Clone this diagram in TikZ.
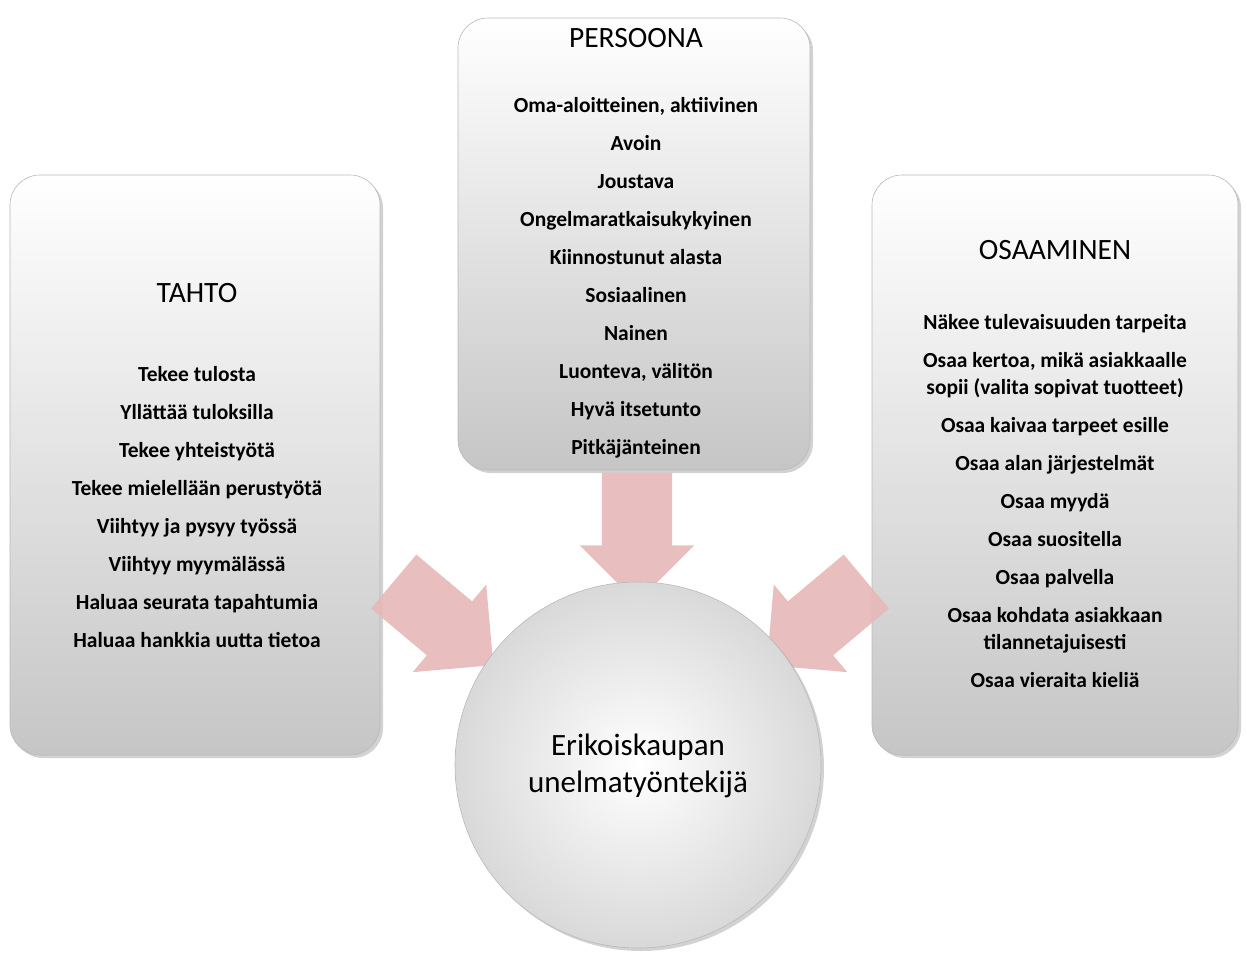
\documentclass[tikz,border=0pt]{standalone}
\usepackage{fontspec}
\setmainfont{Carlito}
\usetikzlibrary{shapes.arrows,shadows}
\begin{document}
\begin{tikzpicture}[x=1pt,y=-1pt,
  panel/.style={draw=gray!55,line width=0.6pt,rounded corners=30pt,top color=white,bottom color=gray!45,drop shadow={opacity=0.35,shadow xshift=3pt,shadow yshift=-3pt}},
  blockarrow/.style={single arrow,draw=none,fill=pinkarr,minimum height=130pt,inner sep=35pt,single arrow head extend=22pt,opacity=0.9},
  ttl/.style={font=\fontsize{29.5}{32}\selectfont,anchor=center},
  lst/.style={font=\fontsize{21.5}{27}\selectfont\bfseries,align=center,anchor=north}]
\definecolor{pinkarr}{HTML}{E6B9B8}
\useasboundingbox (0,0) rectangle (1247,956);
\fill[white] (0,0) rectangle (1247,956);
% panels
\path[panel] (10,175) rectangle (380,755);
\path[panel] (458,18) rectangle (810,470);
\path[panel] (872,175) rectangle (1238,755);
% arrows
\node[blockarrow,rotate=-40] (al) at (430,612) {};
\node[blockarrow,rotate=-90] (ac) at (637,520) {};
\node[blockarrow,rotate=-140] (ar) at (830,612) {};
% circle
\node[circle,minimum size=366pt,draw=gray!55,line width=0.6pt,inner color=white,outer color=gray!30,drop shadow={opacity=0.35,shadow xshift=3pt,shadow yshift=-3pt}] (c) at (638,765) {};
\node[font=\fontsize{31}{37}\selectfont,align=center] (ct) at (638,766) {Erikoiskaupan\\unelmatyöntekijä};
% texts
\node[ttl] (t1) at (197,293) {TAHTO};
\node[lst] (l1) at (197,363) {Tekee tulosta\\[11pt]Yllättää tuloksilla\\[11pt]Tekee yhteistyötä\\[11pt]Tekee mielellään perustyötä\\[11pt]Viihtyy ja pysyy työssä\\[11pt]Viihtyy myymälässä\\[11pt]Haluaa seurata tapahtumia\\[11pt]Haluaa hankkia uutta tietoa};
\node[ttl] (t2) at (636,38) {PERSOONA};
\node[lst] (l2) at (636,94) {Oma-aloitteinen, aktiivinen\\[11pt]Avoin\\[11pt]Joustava\\[11pt]Ongelmaratkaisukykyinen\\[11pt]Kiinnostunut alasta\\[11pt]Sosiaalinen\\[11pt]Nainen\\[11pt]Luonteva, välitön\\[11pt]Hyvä itsetunto\\[11pt]Pitkäjänteinen};
\node[ttl] (t3) at (1055,250) {OSAAMINEN};
\node[lst] (l3) at (1055,311) {Näkee tulevaisuuden tarpeita\\[11pt]Osaa kertoa, mikä asiakkaalle\\sopii (valita sopivat tuotteet)\\[11pt]Osaa kaivaa tarpeet esille\\[11pt]Osaa alan järjestelmät\\[11pt]Osaa myydä\\[11pt]Osaa suositella\\[11pt]Osaa palvella\\[11pt]Osaa kohdata asiakkaan\\tilannetajuisesti\\[11pt]Osaa vieraita kieliä};
\end{tikzpicture}
\end{document}
